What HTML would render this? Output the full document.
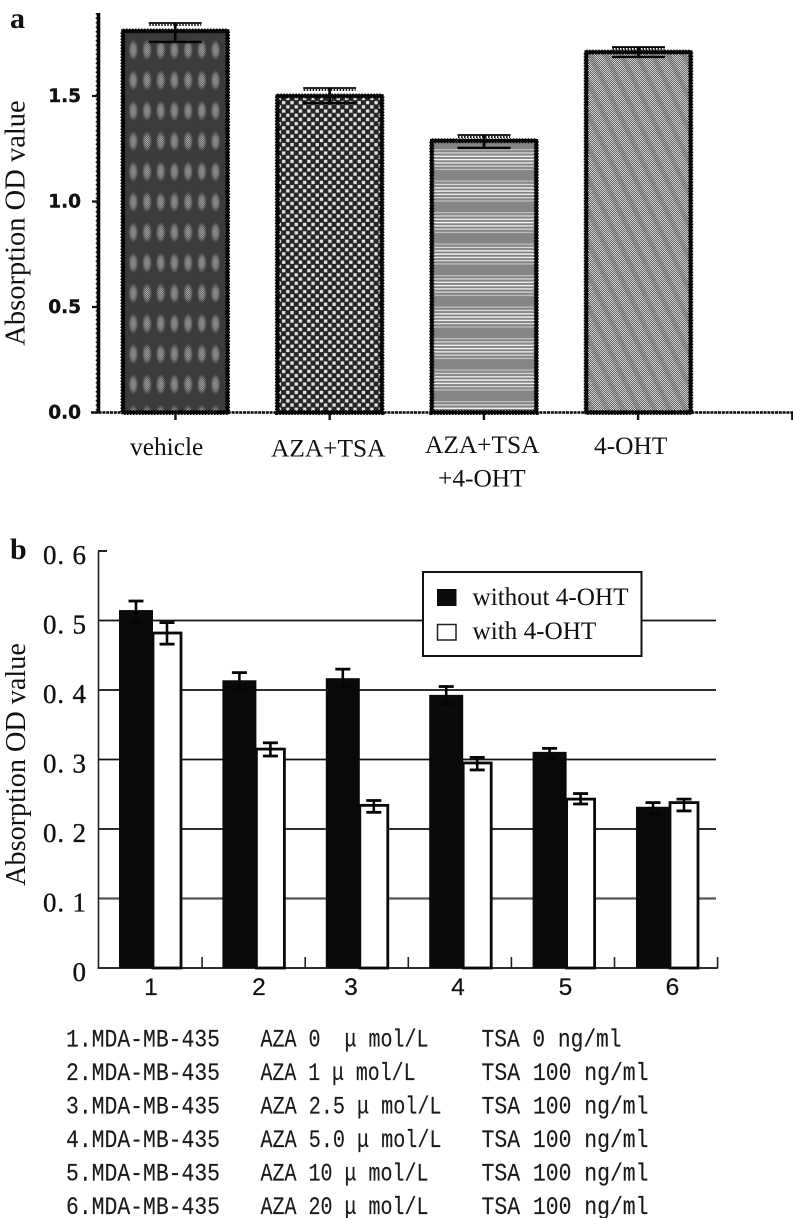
<!DOCTYPE html>
<html lang="en">
<head>
<meta charset="utf-8">
<title>Absorption OD value charts</title>
<style>
html,body{margin:0;padding:0;background:#fff;}
svg{display:block;}
.serif{font-family:"Liberation Serif",serif;fill:#111;}
.mono{font-family:"Liberation Mono","Noto Sans CJK SC",monospace;font-size:25px;fill:#1a1a1a;stroke:#1a1a1a;stroke-width:.15;}
</style>
</head>
<body>
<svg id="figure" xmlns="http://www.w3.org/2000/svg" width="793" height="1218" viewBox="0 0 793 1218">
  <defs>
    <pattern id="fine-checker" width="2" height="2" patternUnits="userSpaceOnUse">
      <rect width="2" height="2" fill="#3c3c3c"/>
      <rect width="1" height="1" fill="#dcdcdc"/>
      <rect x="1" y="1" width="1" height="1" fill="#dcdcdc"/>
    </pattern>
    <radialGradient id="dot-fade">
      <stop offset="0" stop-color="#fff" stop-opacity="1"/>
      <stop offset="0.5" stop-color="#fff" stop-opacity=".8"/>
      <stop offset="1" stop-color="#fff" stop-opacity="0"/>
    </radialGradient>
    <mask id="dot-mask" maskUnits="userSpaceOnUse" x="0" y="0" width="13.7" height="30.4">
      <ellipse cx="6.85" cy="15.2" rx="5" ry="10.5" fill="url(#dot-fade)"/>
    </mask>
    <pattern id="fill-vehicle" x="126.45" y="34.8" width="13.7" height="30.4" patternUnits="userSpaceOnUse">
      <rect width="13.7" height="30.4" fill="#3b3b3b"/>
      <rect width="13.7" height="30.4" fill="url(#fine-checker)" mask="url(#dot-mask)"/>
    </pattern>
    <pattern id="fill-aza" x="277" y="96" width="8.4" height="8.4" patternUnits="userSpaceOnUse">
      <rect width="8.4" height="8.4" fill="#262626"/>
      <rect x="0.8" y="0.8" width="3.3" height="3.3" fill="#e4e4e4"/>
      <rect x="5" y="5" width="3.3" height="3.3" fill="#e4e4e4"/>
    </pattern>
    <pattern id="fill-combo" x="432" y="141" width="10" height="31.5" patternUnits="userSpaceOnUse">
      <rect width="10" height="31.5" fill="#858585"/>
      <rect y="8" width="10" height="1.3" fill="#bdbdbd"/>
      <rect y="11.3" width="10" height="1.3" fill="#d8d8d8"/>
      <rect y="14.6" width="10" height="1.4" fill="#ececec"/>
      <rect y="17.9" width="10" height="1.4" fill="#f4f4f4"/>
      <rect y="21.2" width="10" height="1.4" fill="#ececec"/>
      <rect y="24.5" width="10" height="1.3" fill="#d8d8d8"/>
      <rect y="27.8" width="10" height="1.3" fill="#bdbdbd"/>
    </pattern>
    <pattern id="fine-grey" width="2" height="2" patternUnits="userSpaceOnUse">
      <rect width="2" height="2" fill="#666"/>
      <rect width="1" height="1" fill="#d0d0d0"/>
      <rect x="1" y="1" width="1" height="1" fill="#d0d0d0"/>
    </pattern>
    <pattern id="band-diag" width="14" height="30" patternUnits="userSpaceOnUse" patternTransform="rotate(-26)">
      <rect x="0" width="5" height="30" fill="#7c7c7c" fill-opacity=".6"/>
    </pattern>
  </defs>

  <rect width="793" height="1218" fill="#fff"/>

  <g id="chart-a"></g>
  <g id="chart-b"></g>

  <text class="serif" x="10" y="28" font-size="30" font-weight="bold">a</text>
  <text class="serif" x="10" y="559" font-size="30" font-weight="bold">b</text>

  <text class="serif" font-size="28.5" text-anchor="middle" transform="translate(24.5,223) rotate(-90)">Absorption OD value</text>
  <text class="serif" font-size="28.2" text-anchor="middle" transform="translate(25,764.5) rotate(-90)">Absorption OD value</text>

  <text class="serif" x="130" y="455" font-size="25.4">vehicle</text>
  <text class="serif" x="271" y="456.5" font-size="25.4">AZA+TSA</text>
  <text class="serif" x="425" y="453" font-size="25.4">AZA+TSA</text>
  <text class="serif" x="438" y="486.5" font-size="25.4">+4-OHT</text>
  <text class="serif" x="594" y="454" font-size="25.4">4-OHT</text>

  <g font-family="'Liberation Sans',sans-serif" font-size="24.5" fill="#111" stroke="#111" stroke-width=".2" text-anchor="middle">
    <text x="151" y="995">1</text>
    <text x="259" y="995">2</text>
    <text x="351" y="995">3</text>
    <text x="458" y="995">4</text>
    <text x="565.5" y="995">5</text>
    <text x="672.5" y="995">6</text>
  </g>

  <g>
    <rect x="423" y="572" width="218.5" height="84" fill="#fff" stroke="#111" stroke-width="2"/>
    <rect x="437" y="589" width="19.5" height="17" fill="#0a0a0a"/>
    <rect x="437.5" y="624.5" width="18.5" height="15.5" fill="#fff" stroke="#222" stroke-width="1.5"/>
    <text class="serif" x="472.5" y="605" font-size="25.2">without 4-OHT</text>
    <text class="serif" x="472.5" y="639" font-size="25.2">with 4-OHT</text>
  </g>

  <g>
    <g class="mono">
      <text x="66" y="1046.5" textLength="154" lengthAdjust="spacingAndGlyphs">1.MDA-MB-435</text>
      <text x="66" y="1080" textLength="154" lengthAdjust="spacingAndGlyphs">2.MDA-MB-435</text>
      <text x="66" y="1113.5" textLength="154" lengthAdjust="spacingAndGlyphs">3.MDA-MB-435</text>
      <text x="66" y="1147" textLength="154" lengthAdjust="spacingAndGlyphs">4.MDA-MB-435</text>
      <text x="66" y="1180.5" textLength="154" lengthAdjust="spacingAndGlyphs">5.MDA-MB-435</text>
      <text x="66" y="1214" textLength="154" lengthAdjust="spacingAndGlyphs">6.MDA-MB-435</text>
    </g>
    <g class="mono" style="white-space:pre">
      <text xml:space="preserve" x="260.5" y="1046.5" textLength="168" lengthAdjust="spacingAndGlyphs">AZA 0  μ mol/L</text>
      <text xml:space="preserve" x="260.5" y="1080" textLength="155" lengthAdjust="spacingAndGlyphs">AZA 1 μ mol/L</text>
      <text xml:space="preserve" x="260.5" y="1113.5" textLength="181" lengthAdjust="spacingAndGlyphs">AZA 2.5 μ mol/L</text>
      <text xml:space="preserve" x="260.5" y="1147" textLength="181" lengthAdjust="spacingAndGlyphs">AZA 5.0 μ mol/L</text>
      <text xml:space="preserve" x="260.5" y="1180.5" textLength="168" lengthAdjust="spacingAndGlyphs">AZA 10 μ mol/L</text>
      <text xml:space="preserve" x="260.5" y="1214" textLength="168" lengthAdjust="spacingAndGlyphs">AZA 20 μ mol/L</text>
    </g>
    <g class="mono">
      <text x="481.5" y="1046.5" textLength="140" lengthAdjust="spacingAndGlyphs">TSA 0 ng/ml</text>
      <text x="481.5" y="1080" textLength="167" lengthAdjust="spacingAndGlyphs">TSA 100 ng/ml</text>
      <text x="481.5" y="1113.5" textLength="167" lengthAdjust="spacingAndGlyphs">TSA 100 ng/ml</text>
      <text x="481.5" y="1147" textLength="167" lengthAdjust="spacingAndGlyphs">TSA 100 ng/ml</text>
      <text x="481.5" y="1180.5" textLength="167" lengthAdjust="spacingAndGlyphs">TSA 100 ng/ml</text>
      <text x="481.5" y="1214" textLength="167" lengthAdjust="spacingAndGlyphs">TSA 100 ng/ml</text>
    </g>
  </g>
</svg>

<script>
// Chart A data
const categoriesA = ['vehicle', 'aza-tsa', 'aza-tsa-4oht', '4oht'];
const valuesA = [1.808, 1.5, 1.288, 1.708];
const errorHighA = [1.846, 1.538, 1.315, 1.732];
const errorLowA = [1.756, 1.467, 1.254, 1.685];
const tickValuesA = [0, 0.5, 1, 1.5];
const tickLabelsA = ['0.0', '0.5', '1.0', '1.5'];

// Chart B data
const categoriesB = ['1', '2', '3', '4', '5', '6'];
const valuesWithout = [0.515, 0.414, 0.417, 0.393, 0.311, 0.232];
const errorHighWithout = [0.528, 0.425, 0.430, 0.405, 0.316, 0.238];
const errorLowWithout = [0.498, 0.400, 0.404, 0.380, 0.301, 0.222];
const valuesWith = [0.482, 0.315, 0.234, 0.295, 0.243, 0.238];
const errorHighWith = [0.497, 0.324, 0.241, 0.303, 0.251, 0.243];
const errorLowWith = [0.466, 0.305, 0.224, 0.285, 0.236, 0.226];
const tickValuesB = [0, 0.1, 0.2, 0.3, 0.4, 0.5, 0.6];
const tickLabelsB = ['0', '0. 1', '0. 2', '0. 3', '0. 4', '0. 5', '0. 6'];

const NS = 'http://www.w3.org/2000/svg';
function make(parent, tag, attrs) {
  const el = document.createElementNS(NS, tag);
  for (const k in attrs) el.setAttribute(k, attrs[k]);
  parent.appendChild(el);
  return el;
}

// ---------- Chart A ----------
const gA = document.getElementById('chart-a');
const yA = v => 412.5 - v * 211;
const barLeftA = i => 123 + i * 154.4;
const barWidthA = 104.5;
const xTickA = i => 175.5 + i * 154.2;
const fillsA = ['fill-vehicle', 'fill-aza', 'fill-combo', 'fine-grey'];

const axisYA = make(gA, 'line', {x1: 98.5, x2: 98.5, y1: 13, y2: 413.5, stroke: '#050505', 'stroke-width': 3.6});


const axisYDots = make(gA, 'line', {x1: 96.5, x2: 96.5, y1: 13, y2: 413, stroke: '#111', 'stroke-width': 1.5, 'stroke-dasharray': '1.5 3'});


const axisXA = make(gA, 'line', {x1: 91, x2: 793, y1: 412.5, y2: 412.5, stroke: '#050505', 'stroke-width': 2.6, 'stroke-dasharray': '3 .8'});



tickValuesA.forEach((v, i) => {
  const tick = make(gA, 'line', {x1: 92, x2: 98, y1: yA(v), y2: yA(v), stroke: '#111', 'stroke-width': 2.2});
  
  
  const label = make(gA, 'text', {x: 81, y: yA(v) + 6, 'text-anchor': 'end', 'font-family': '"DejaVu Sans",sans-serif', 'font-weight': 'bold', 'font-size': 18.5, fill: '#111', stroke: '#111', 'stroke-width': .4});
  label.textContent = tickLabelsA[i];
  
  
});

for (let i = 0; i < 5; i++) {
  const tick = make(gA, 'line', {x1: xTickA(i), x2: xTickA(i), y1: 412.5, y2: 420, stroke: '#111', 'stroke-width': 2.4});
  
  
}

valuesA.forEach((v, i) => {
  const x = barLeftA(i);
  const top = yA(v);
  const h = yA(0) - top;
  const bar = make(gA, 'rect', {x: x, y: top, width: barWidthA, height: h, fill: 'url(#' + fillsA[i] + ')'});
  
  
  if (i === 3) {
    const band = make(gA, 'rect', {x: x, y: top, width: barWidthA, height: h, fill: 'url(#band-diag)'});
    
    
  }
  const dots = make(gA, 'rect', {x: x, y: top, width: barWidthA, height: h, fill: 'none', stroke: '#111', 'stroke-width': 5, 'stroke-dasharray': '1.5 1.5'});
  
  
  const outline = make(gA, 'rect', {x: x, y: top, width: barWidthA, height: h, fill: 'none', stroke: '#050505', 'stroke-width': 3.6});
  
  

  const cx = x + barWidthA / 2;
  const stem = make(gA, 'line', {x1: cx, x2: cx, y1: yA(errorHighA[i]), y2: yA(errorLowA[i]), stroke: '#050505', 'stroke-width': 2.8});
  
  
  const capHigh = make(gA, 'line', {x1: cx - 26.5, x2: cx + 26.5, y1: yA(errorHighA[i]), y2: yA(errorHighA[i]), stroke: '#050505', 'stroke-width': 1.8});
  
  
  const capDots = make(gA, 'line', {x1: cx - 26, x2: cx + 26, y1: yA(errorHighA[i]) + 2, y2: yA(errorHighA[i]) + 2, stroke: '#111', 'stroke-width': 2, 'stroke-dasharray': '1.5 1.5'});
  
  
  const capLow = make(gA, 'line', {x1: cx - 26.5, x2: cx + 26.5, y1: yA(errorLowA[i]), y2: yA(errorLowA[i]), stroke: '#050505', 'stroke-width': 2.4});
  
  
});

// ---------- Chart B ----------
const gB = document.getElementById('chart-b');
const yB = v => 968 - v * 695;
const groupLeft = i => 119 + i * 103.4;
const darkWidth = 34;
const lightWidth = 28;
const xTickB = i => 99 + i * 103.1;

tickValuesB.forEach((v, i) => {
  const label = make(gB, 'text', {x: 86, y: yB(v) + 13, 'text-anchor': 'end', 'font-family': '"Liberation Serif",serif', 'font-size': 27, fill: '#111', stroke: '#111', 'stroke-width': .35});
  label.setAttribute('xml:space', 'preserve');
  label.style.whiteSpace = 'pre';
  label.textContent = tickLabelsB[i];
  if (v !== 0) {
    label.setAttribute('textLength', 43);
  }
  
  
  if (v > 0 && v < 0.6) {
    const thick = v === 0.1;
    const grid = make(gB, 'line', {x1: 98.5, x2: 716, y1: yB(v), y2: yB(v), stroke: thick ? '#555' : '#111', 'stroke-width': thick ? 2.2 : 1.8});
    
    
  }
});

const axisYB = make(gB, 'line', {x1: 98.5, x2: 98.5, y1: yB(0.6), y2: yB(0), stroke: '#222', 'stroke-width': 1.6});


const topTick = make(gB, 'line', {x1: 98, x2: 107, y1: yB(0.6), y2: yB(0.6), stroke: '#222', 'stroke-width': 2});


const axisXB = make(gB, 'line', {x1: 97.5, x2: 718, y1: yB(0), y2: yB(0), stroke: '#111', 'stroke-width': 1.8});



for (let i = 1; i <= 6; i++) {
  const tick = make(gB, 'line', {x1: xTickB(i), x2: xTickB(i), y1: 957, y2: 968, stroke: '#222', 'stroke-width': 1.6});
  
  
}

function errorBar(cx, hi, lo, name) {
  const stem = make(gB, 'line', {x1: cx, x2: cx, y1: yB(hi), y2: yB(lo), stroke: '#050505', 'stroke-width': 2.6});
  
  
  const capHi = make(gB, 'line', {x1: cx - 7.5, x2: cx + 7.5, y1: yB(hi), y2: yB(hi), stroke: '#050505', 'stroke-width': 2.8});
  
  
  const capLo = make(gB, 'line', {x1: cx - 7.5, x2: cx + 7.5, y1: yB(lo), y2: yB(lo), stroke: '#050505', 'stroke-width': 2.8});
  
  
}

categoriesB.forEach((c, i) => {
  const left = groupLeft(i);
  const light = make(gB, 'rect', {x: left + darkWidth, y: yB(valuesWith[i]), width: lightWidth, height: yB(0) - yB(valuesWith[i]), fill: '#fff', stroke: '#0a0a0a', 'stroke-width': 2.8});
  
  
  const dark = make(gB, 'rect', {x: left, y: yB(valuesWithout[i]), width: darkWidth, height: yB(0) - yB(valuesWithout[i]), fill: '#0a0a0a'});
  
  
  errorBar(left + darkWidth / 2, errorHighWithout[i], errorLowWithout[i], 'error-without-' + c);
  errorBar(left + darkWidth + lightWidth / 2, errorHighWith[i], errorLowWith[i], 'error-with-' + c);
});
</script>
</body>
</html>
